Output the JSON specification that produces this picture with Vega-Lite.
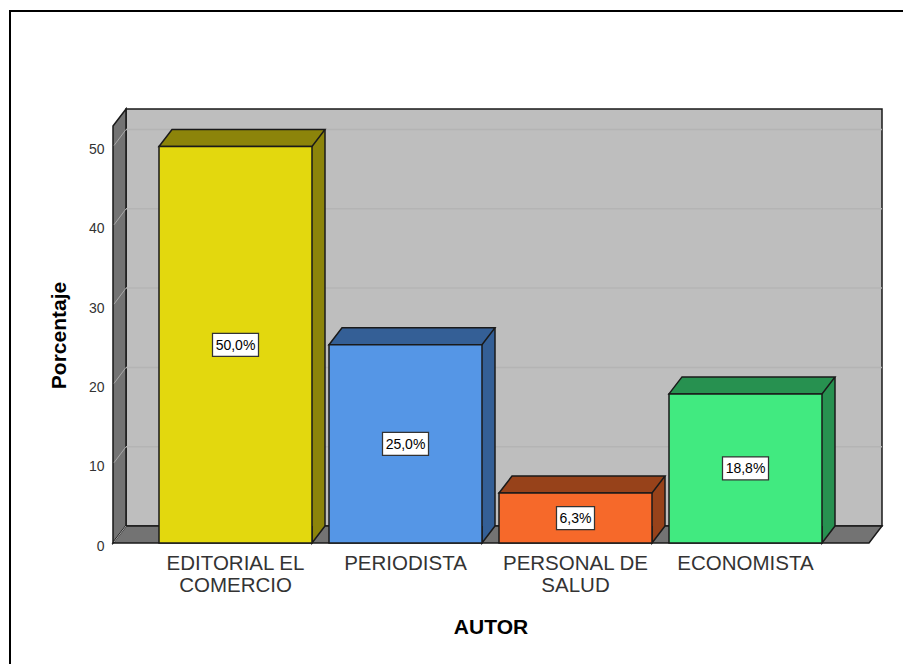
{
  "$schema": "https://vega.github.io/schema/vega-lite/v6.json",
  "autosize": {"type": "none"},
  "padding": {"left": 126, "top": 109, "right": 21, "bottom": 138},
  "width": 756,
  "height": 417,
  "background": "white",
  "view": {"fill": "#bebebe", "stroke": "#1a1a1a", "strokeWidth": 1.5},
  "config": {"font": "Liberation Sans", "text": {"font": "Liberation Sans"}},
  "data": {"values": [
    {"autor": "EDITORIAL EL COMERCIO", "pct": 50.0, "label": "50,0%"},
    {"autor": "PERIODISTA", "pct": 25.0, "label": "25,0%"},
    {"autor": "PERSONAL DE SALUD", "pct": 6.3, "label": "6,3%"},
    {"autor": "ECONOMISTA", "pct": 18.8, "label": "18,8%"}
  ]},
  "resolve": {"scale": {"y": "independent", "fill": "independent"}, "axis": {"x": "shared"}},
  "layer": [
    {
      "data": {"values": [{"parte": "marco"}]},
      "mark": {"type": "point", "filled": false, "opacity": 1, "size": 4, "stroke": "#000000", "strokeWidth": 2, "shape": "M-494,121 L-494,-532 L399,-532", "clip": false},
      "encoding": {"y": {"datum": 0, "type": "quantitative", "scale": {"domain": [0, 54.73], "range": [434, 0]}, "axis": null}}
    },
    {
      "data": {"values": [{"parte": "pared"}]},
      "mark": {"type": "point", "filled": true, "opacity": 1, "size": 4, "fill": "#737373", "stroke": "#1a1a1a", "strokeWidth": 1.5, "shape": "M-391,-417 L-378,-434 L-378,-17 L-391,0 Z"},
      "encoding": {"y": {"datum": 0, "type": "quantitative", "scale": {"domain": [0, 54.73], "range": [434, 0]}, "axis": null}}
    },
    {
      "data": {"values": [{"parte": "suelo"}]},
      "mark": {"type": "point", "filled": true, "opacity": 1, "size": 4, "fill": "#737373", "stroke": "#1a1a1a", "strokeWidth": 1.5, "shape": "M-391,0 L-378,-17 L378,-17 L365,0 Z"},
      "encoding": {"y": {"datum": 0, "type": "quantitative", "scale": {"domain": [0, 54.73], "range": [434, 0]}, "axis": null}}
    },
    {
      "data": {"values": [{"tick": 10}, {"tick": 20}, {"tick": 30}, {"tick": 40}, {"tick": 50}]},
      "mark": {"type": "rule", "stroke": "#b4b4b4", "strokeWidth": 1.5, "yOffset": -17, "y2Offset": -17},
      "encoding": {"y": {"field": "tick", "type": "quantitative", "scale": {"domain": [0, 54.73], "range": [434, 0]}, "axis": null}}
    },
    {
      "data": {"values": [{"tick": 0}, {"tick": 10}, {"tick": 20}, {"tick": 30}, {"tick": 40}, {"tick": 50}]},
      "mark": {"type": "point", "filled": false, "opacity": 1, "size": 4, "stroke": "#a8a8a8", "strokeWidth": 1, "shape": "M-390,-1 L-378,-17"},
      "encoding": {"y": {"field": "tick", "type": "quantitative", "scale": {"domain": [0, 54.73], "range": [434, 0]}, "axis": null}}
    },
    {
      "mark": {"type": "bar", "xOffset": 13, "x2Offset": 13, "yOffset": -17, "y2Offset": -17},
      "encoding": {
        "x": {
          "field": "autor", "type": "nominal", "sort": null, "title": "AUTOR",
          "scale": {"domain": ["EDITORIAL EL COMERCIO", "PERIODISTA", "PERSONAL DE SALUD", "ECONOMISTA"], "range": [24.5, 704.5], "paddingInner": 0.1, "paddingOuter": 0.05},
          "axis": {
            "offset": 17, "domain": false, "ticks": false, "labelAngle": 0, "labelFont": "Liberation Sans", "labelFontSize": 20.5, "labelColor": "#333333", "labelPadding": 10, "labelLineHeight": 22,
            "labelExpr": "datum.label == 'EDITORIAL EL COMERCIO' ? ['EDITORIAL EL', 'COMERCIO'] : datum.label == 'PERSONAL DE SALUD' ? ['PERSONAL DE', 'SALUD'] : datum.label",
            "titleFont": "Liberation Sans", "titleFontSize": 21, "titleFontWeight": "bold", "titleColor": "#000000", "titlePadding": 21
          }
        },
        "y": {"field": "pct", "type": "quantitative", "stack": null, "scale": {"domain": [0, 54.73], "range": [434, 0]}, "axis": null},
        "y2": {"datum": 0},
        "fill": {"field": "autor", "type": "nominal", "legend": null, "scale": {"domain": ["EDITORIAL EL COMERCIO", "PERIODISTA", "PERSONAL DE SALUD", "ECONOMISTA"], "range": ["#8c840a", "#345f96", "#97421a", "#279150"]}}
      }
    },
    {
      "mark": {"type": "rule", "stroke": "#1a1a1a", "strokeWidth": 1.5, "xOffset": 89.5, "yOffset": -17, "y2Offset": -17},
      "encoding": {
        "x": {"field": "autor", "type": "nominal", "sort": null, "bandPosition": 0.5},
        "y": {"field": "pct", "type": "quantitative", "scale": {"domain": [0, 54.73], "range": [434, 0]}, "axis": null},
        "y2": {"datum": 0}
      }
    },
    {
      "mark": {"type": "point", "filled": true, "opacity": 1, "size": 4, "stroke": "#1a1a1a", "strokeWidth": 1.5, "shape": "M76.5,-17 L76.5,0 L89.5,-17"},
      "encoding": {
        "x": {"field": "autor", "type": "nominal", "sort": null},
        "y": {"datum": 0, "type": "quantitative", "scale": {"domain": [0, 54.73], "range": [434, 0]}, "axis": null},
        "fill": {"field": "autor", "type": "nominal", "legend": null, "scale": {"domain": ["EDITORIAL EL COMERCIO", "PERIODISTA", "PERSONAL DE SALUD", "ECONOMISTA"], "range": ["#8c840a", "#345f96", "#97421a", "#279150"]}}
      }
    },
    {
      "mark": {"type": "point", "filled": true, "opacity": 1, "size": 4, "stroke": "#1a1a1a", "strokeWidth": 1.5, "shape": "M-76.5,0 L-63.5,-17 L89.5,-17 L76.5,0 Z"},
      "encoding": {
        "x": {"field": "autor", "type": "nominal", "sort": null},
        "y": {"field": "pct", "type": "quantitative", "scale": {"domain": [0, 54.73], "range": [434, 0]}, "axis": null},
        "fill": {"field": "autor", "type": "nominal", "legend": null, "scale": {"domain": ["EDITORIAL EL COMERCIO", "PERIODISTA", "PERSONAL DE SALUD", "ECONOMISTA"], "range": ["#8c840a", "#345f96", "#97421a", "#279150"]}}
      }
    },
    {
      "mark": {"type": "bar", "stroke": "#1a1a1a", "strokeWidth": 1.5},
      "encoding": {
        "x": {"field": "autor", "type": "nominal", "sort": null},
        "y": {
          "field": "pct", "type": "quantitative", "stack": null, "title": "Porcentaje", "scale": {"domain": [0, 54.73], "range": [434, 0]},
          "axis": {
            "orient": "left", "offset": 13, "domain": false, "ticks": false, "grid": false, "values": [0, 10, 20, 30, 40, 50], "labelFont": "Liberation Sans", "labelFontSize": 14, "labelColor": "#333333", "labelPadding": 9, "labelOffset": 3,
            "titleFont": "Liberation Sans", "titleFontSize": 21, "titleFontWeight": "bold", "titleColor": "#000000", "titleX": -44, "titleY": 226
          }
        },
        "y2": {"datum": 0},
        "fill": {"field": "autor", "type": "nominal", "legend": null, "scale": {"domain": ["EDITORIAL EL COMERCIO", "PERIODISTA", "PERSONAL DE SALUD", "ECONOMISTA"], "range": ["#e3d80e", "#5596e6", "#f6692a", "#41ea80"]}}
      }
    },
    {
      "mark": {"type": "point", "filled": true, "opacity": 1, "size": 4, "fill": "#ffffff", "stroke": "#333333", "strokeWidth": 1.25},
      "encoding": {
        "x": {"field": "autor", "type": "nominal", "sort": null},
        "y": {"field": "pct", "type": "quantitative", "scale": {"domain": [0, 109.46], "range": [434, 0]}, "axis": null},
        "shape": {"field": "label", "type": "nominal", "legend": null, "scale": {"domain": ["50,0%", "25,0%", "6,3%", "18,8%"], "range": ["M-23,-11.5 L23,-11.5 L23,11.5 L-23,11.5 Z", "M-23,-11.5 L23,-11.5 L23,11.5 L-23,11.5 Z", "M-19,-11.5 L19,-11.5 L19,11.5 L-19,11.5 Z", "M-23,-11.5 L23,-11.5 L23,11.5 L-23,11.5 Z"]}}
      }
    },
    {
      "mark": {"type": "text", "font": "Liberation Sans", "fontSize": 14, "fill": "#000000", "align": "center", "baseline": "middle", "yOffset": 1},
      "encoding": {
        "x": {"field": "autor", "type": "nominal", "sort": null},
        "y": {"field": "pct", "type": "quantitative", "scale": {"domain": [0, 109.46], "range": [434, 0]}, "axis": null},
        "text": {"field": "label", "type": "nominal"}
      }
    }
  ]
}
